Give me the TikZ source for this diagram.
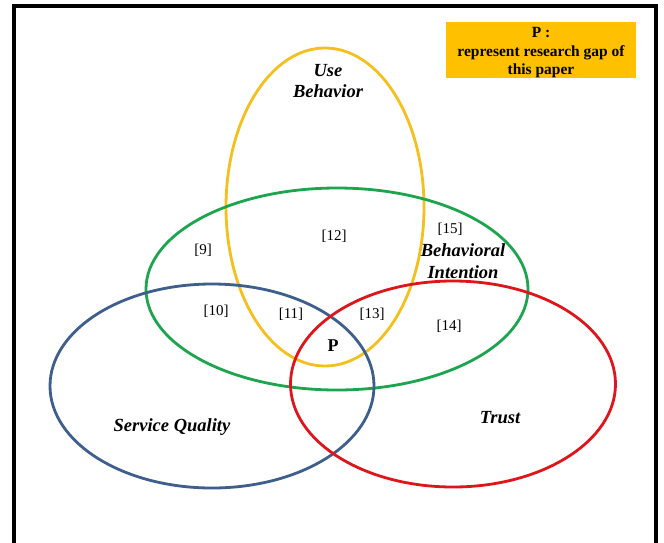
\documentclass[tikz,border=0pt]{standalone}
\usepackage{fontspec}
\setmainfont{Liberation Serif}
\usetikzlibrary{shapes.geometric}
\definecolor{ubYellow}{RGB}{245,192,30}
\definecolor{biGreen}{RGB}{28,165,78}
\definecolor{sqBlue}{RGB}{62,94,140}
\definecolor{trRed}{RGB}{222,22,28}
\definecolor{gapOrange}{RGB}{255,192,0}
\tikzset{
  setring/.style={draw=#1, ellipse, line width=2.8pt, inner sep=0pt},
  lbl/.style={font=\fontsize{18.5}{21.5}\selectfont\bfseries\itshape, inner sep=0pt, align=center},
  ref/.style={font=\fontsize{15}{17}\selectfont, inner sep=0pt},
}
\begin{document}
\begin{tikzpicture}[x=1pt,y=-1pt]
\useasboundingbox (0,0) rectangle (664,542);
\fill[white] (0,0) rectangle (664,542);
% frame
\coordinate (fbl) at (14,545);
\coordinate (ftl) at (14,6);
\coordinate (ftr) at (656,6);
\coordinate (fbr) at (656,545);
\draw[line width=4pt] (fbl) -- (ftl) -- (ftr) -- (fbr);
% legend
\node[fill=gapOrange, minimum width=190pt, minimum height=56pt, inner sep=0pt]
  (legend) at (541,50) {};
\node[font=\fontsize{15.5}{18.5}\selectfont\bfseries, align=center, inner sep=0pt]
  (legendtxt) at (541,53) {P :\\represent research gap of\\this paper};
% sets
\node[setring=ubYellow, minimum width=198pt, minimum height=318pt] (ub) at (325,207) {};
\node[setring=biGreen, minimum width=382pt, minimum height=202pt] (bi) at (337,289) {};
\node[setring=sqBlue, minimum width=324pt, minimum height=204pt] (sq) at (212,386) {};
\node[setring=trRed, minimum width=325pt, minimum height=206pt] (tr) at (453,384) {};
% labels
\node[lbl] (ubl) at (328,81) {Use\\Behavior};
\node[lbl] (bil) at (463,261) {Behavioral\\Intention};
\node[lbl] (sql) at (172,427) {Service Quality};
\node[lbl] (trl) at (500,418) {Trust};
\node[ref] (r9) at (203,250) {[9]};
\node[ref] (r10) at (216,311) {[10]};
\node[ref] (r11) at (291,314) {[11]};
\node[ref] (r12) at (334,236) {[12]};
\node[ref] (r13) at (372,314) {[13]};
\node[ref] (r14) at (449,326) {[14]};
\node[ref] (r15) at (450,229) {[15]};
\node[ref, font=\fontsize{18}{20}\selectfont\bfseries] (p) at (333,346) {P};
\end{tikzpicture}
\end{document}
